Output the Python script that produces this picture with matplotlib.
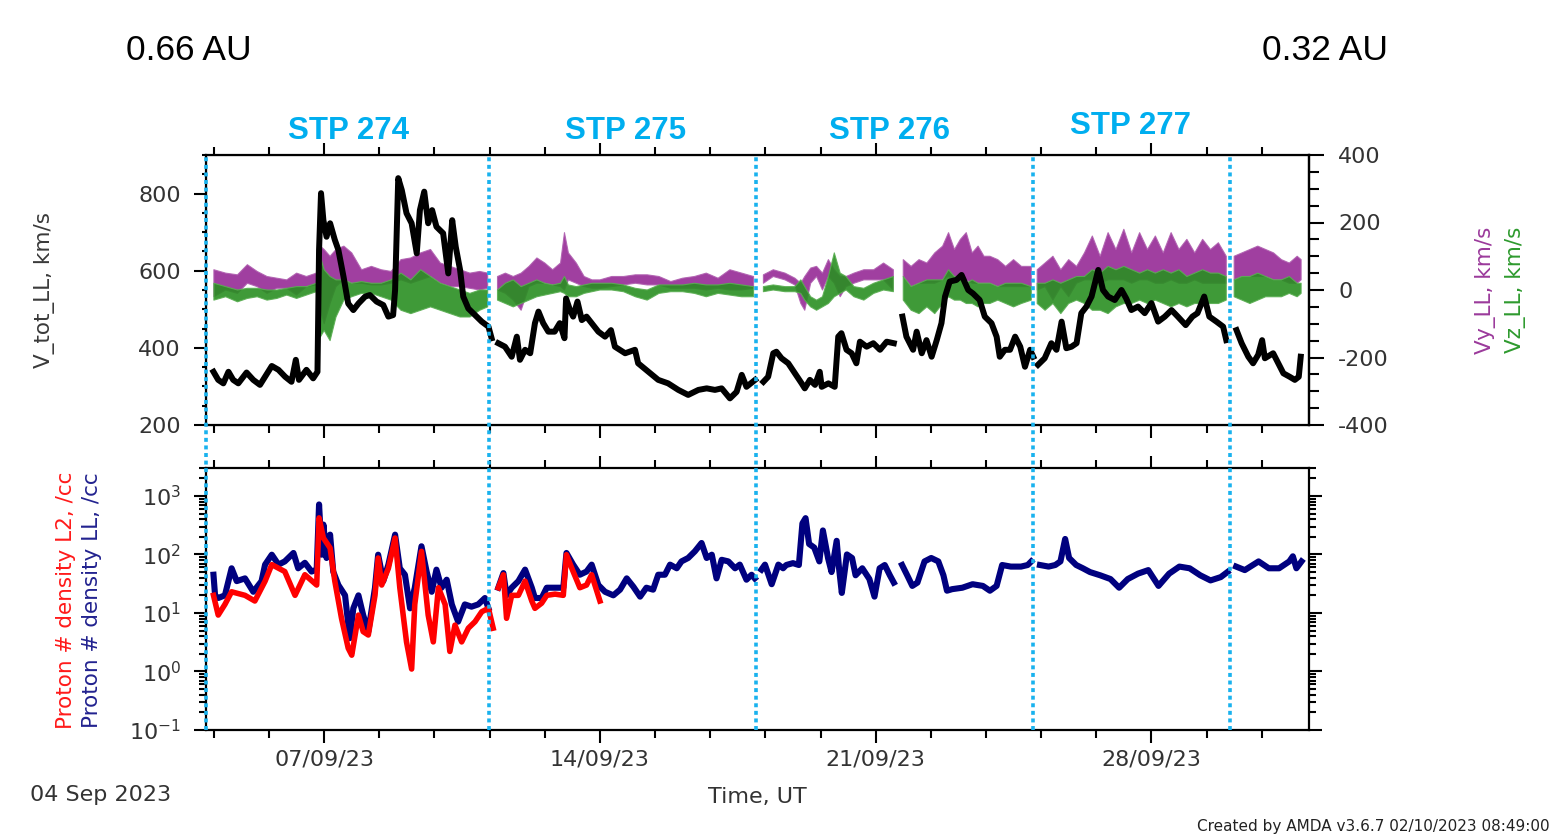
import datetime as dt
import numpy as np
import matplotlib
matplotlib.use("Agg")
import matplotlib.pyplot as plt
import matplotlib.dates as mdates
from matplotlib.ticker import FixedLocator, MultipleLocator, LogLocator, NullFormatter

nan = np.nan
start = dt.datetime(2023, 9, 4)

# all times are days since 04 Sep 2023 00:00 UT, nan marks a data gap
vtot_day = [0.19, 0.31, 0.44, 0.57, 0.69, 0.82, 1.03, 1.20, 1.37, 1.50, 1.67, 1.84, 2.01, 2.17, 2.28, 2.36,
            2.55, 2.72, 2.83, 2.87, 2.92, 2.98, 3.06, 3.15, 3.27, 3.36, 3.49, 3.61, 3.74, 3.87, 4.04, 4.16,
            4.33, 4.50, 4.63, 4.75, 4.80, 4.88, 4.97, 5.09, 5.22, 5.35, 5.43, 5.54, 5.64, 5.74, 5.85, 6.02,
            6.15, 6.25, 6.34, 6.45, 6.53, 6.66, 6.83, 7.00, 7.17, 7.25, 7.33,
            7.42, 7.59, 7.76, 7.89, 7.97, 8.10, 8.23, 8.35, 8.44, 8.56, 8.69, 8.85, 8.98, 9.10, 9.14, 9.24,
            9.32, 9.43, 9.54, 9.66, 9.79, 9.96, 10.13, 10.28, 10.38, 10.64, 10.89, 10.97, 11.23, 11.48, 11.73,
            11.99, 12.24, 12.50, 12.71, 12.92, 13.09, 13.30, 13.47, 13.60, 13.72, 13.94, 14.05,
            14.15, 14.27, 14.40, 14.48, 14.61, 14.78, 14.95, 15.12, 15.20, 15.33, 15.46, 15.58, 15.63, 15.80,
            15.96, 16.05, 16.13, 16.26, 16.39, 16.51, 16.60, 16.77, 16.94, 17.11, 17.28, 17.46, 17.57,
            17.68, 17.78, 17.95, 18.04, 18.17, 18.29, 18.42, 18.55, 18.67, 18.76, 18.88, 19.05, 19.18, 19.35,
            19.47, 19.64, 19.77, 19.94, 20.07, 20.15, 20.28, 20.41, 20.54, 20.67, 20.79, 20.92, 21.00, 21.06,
            21.12, 21.29, 21.46, 21.59, 21.72, 21.84, 21.97, 22.10, 22.22, 22.35, 22.48, 22.65, 22.77, 22.90,
            23.07, 23.24, 23.36, 23.49, 23.66, 23.83, 24.00, 24.17, 24.34, 24.51, 24.67, 24.87, 25.04, 25.17,
            25.34, 25.47, 25.65, 25.82, 25.90, 26.03,
            26.16, 26.29, 26.46, 26.58, 26.71, 26.81, 26.88, 27.09, 27.22, 27.35, 27.51, 27.64, 27.74, 27.79]
vtot = [338, 317, 308, 338, 317, 308, 336, 317, 304, 325, 353, 343, 325, 312, 369, 317,
        343, 321, 338, 654, 801, 731, 688, 723, 680, 654, 585, 515, 498, 515, 533, 537,
        520, 511, 481, 485, 550, 840, 809, 749, 723, 645, 757, 805, 723, 757, 714, 697,
        593, 731, 662, 602, 533, 502, 485, 468, 455, 425, nan,
        412, 403, 377, 429, 369, 395, 386, 464, 494, 464, 442, 442, 464, 425, 528, 498,
        481, 520, 472, 481, 464, 442, 429, 446, 403, 386, 395, 360, 338, 317, 308,
        291, 278, 291, 295, 291, 295, 269, 286, 330, 299, 317, nan,
        312, 325, 386, 390, 373, 360, 334, 308, 295, 317, 304, 338, 299, 308,
        299, 429, 438, 395, 386, 360, 416, 403, 412, 395, 416, 412, nan,
        481, 429, 395, 442, 386, 420, 377, 420, 464, 533, 572, 576, 589, 550,
        541, 524, 481, 464, 429, 377, 395, 395, 429, 403, 351, 395, 377, nan,
        356, 373, 412, 395, 468, 399, 403, 412, 490, 507, 533, 602, 550, 533,
        524, 550, 528, 498, 507, 490, 516, 468, 481, 498, 481, 459, 481, 490,
        533, 481, 468, 455, 420, nan,
        446, 412, 377, 360, 382, 420, 373, 386, 360, 334, 325, 317, 325, 377]

vyz_day = [0.2, 0.5, 0.8, 1.05, 1.3, 1.55, 1.8, 2.05, 2.3, 2.55, 2.8, 2.9, 3.0, 3.15, 3.3, 3.5, 3.7, 3.95,
           4.2, 4.45, 4.7, 4.95, 5.2, 5.45, 5.7, 5.95, 6.2, 6.45, 6.7, 6.95, 7.15, 7.3,
           7.4, 7.6, 7.8, 8.0, 8.2, 8.4, 8.6, 8.8, 9.0, 9.1, 9.2, 9.4, 9.6, 9.8, 10.0, 10.3, 10.6, 10.9,
           11.2, 11.5, 11.8, 12.1, 12.4, 12.7, 13.0, 13.3, 13.6, 13.9, 14.0,
           14.15, 14.4, 14.7, 14.95, 15.1, 15.2, 15.35, 15.5, 15.65, 15.8, 15.95, 16.1, 16.25, 16.45, 16.7,
           16.95, 17.2, 17.45, 17.55,
           17.7, 17.9, 18.1, 18.3, 18.5, 18.7, 18.85, 19.0, 19.15, 19.3, 19.45, 19.6, 19.75, 19.9, 20.1,
           20.3, 20.5, 20.7, 20.95, 21.0,
           21.1, 21.3, 21.5, 21.7, 21.9, 22.1, 22.3, 22.5, 22.7, 22.9, 23.1, 23.3, 23.5, 23.7, 23.9, 24.1,
           24.3, 24.5, 24.7, 24.9, 25.1, 25.3, 25.5, 25.7, 25.9, 26.0,
           26.1, 26.3, 26.5, 26.7, 26.9, 27.1, 27.3, 27.5, 27.7, 27.8]
vy_lo = [-20, 0, -10, 20, 10, -10, 5, 5, -15, 10, 15, -60, -100, -40, 10, 30, 20, 20,
         15, 15, 20, 30, 20, 30, 40, 20, 10, 10, 5, 0, 5, nan,
         0, -10, -30, -60, 10, 20, 20, 15, 10, 0, 30, 20, 10, 5, 5, 10, 15, 20,
         15, 15, 5, 5, 5, 0, 5, 0, 0, 5, nan,
         20, 40, 30, 15, -40, -60, 20, 40, 0, 40, 20, -20, 10, 20, 30,
         30, 30, 0, nan,
         40, 10, 20, 20, 20, 30, 40, 30, 30, 30, 20, 20, 20, 20, 10,
         10, 10, 10, 10, nan,
         0, 10, -30, 10, -20, 20, 30, 30, 20, 30, 30, 30, 20, 30, 30, 20,
         20, 30, 20, 20, 30, 20, 20, 20, 20, nan,
         30, 40, 40, 40, 40, 30, 30, 20, 20, 30]
vy_hi = [60, 50, 45, 75, 55, 40, 35, 30, 50, 40, 50, 130, 120, 100, 120, 130, 110, 60,
         70, 60, 55, 90, 95, 110, 120, 80, 70, 60, 50, 55, 50, nan,
         40, 50, 40, 50, 70, 95, 80, 60, 80, 170, 110, 80, 40, 30, 30, 40, 40, 45,
         45, 40, 25, 35, 40, 50, 35, 60, 50, 40, nan,
         45, 60, 50, 35, 20, 40, 65, 70, 50, 90, 60, 40, 40, 50, 60,
         60, 80, 60, nan,
         90, 70, 90, 80, 110, 130, 170, 120, 150, 170, 110, 130, 100, 100, 90,
         70, 90, 70, 70, nan,
         60, 80, 100, 60, 90, 70, 110, 160, 100, 170, 120, 180, 110, 170, 120, 160,
         110, 170, 120, 150, 110, 150, 120, 140, 100, nan,
         100, 110, 120, 130, 120, 110, 90, 80, 100, 90]
vz_lo = [-30, -20, -35, -25, -20, -30, -25, -15, -25, -15, -5, -140, -120, -150, -80, -30, -20, -10,
         -10, -20, -30, -60, -70, -60, -50, -60, -70, -80, -80, -60, -50, nan,
         -30, -40, -50, -40, -30, -20, -15, -10, -5, -10, -20, -20, -10, -5, 0, 0, -5, -20,
         -30, -10, -5, -5, -10, -20, -10, -15, -20, -20, nan,
         -5, 0, -5, -5, -10, -30, -50, -60, -50, -40, -20, -10, 0, -20, -30,
         -10, 0, -5, nan,
         -30, -60, -70, -50, -70, -40, -20, -30, -30, -40, -40, -50, -40, -40, -30,
         -40, -50, -40, -30, nan,
         -40, -60, -40, -70, -40, -30, -40, -60, -60, -70, -50, -40, -40, -30, -40, -30,
         -40, -50, -40, -50, -40, -40, -40, -40, -30, nan,
         -20, -30, -40, -30, -20, -20, -20, -10, -20, -10]
vz_hi = [20, 10, 0, 5, 5, 0, 0, 5, 10, 10, 20, 100, 60, 40, 30, 30, 20, 25,
         20, 20, 30, 50, 30, 60, 40, 20, 10, 0, -10, 0, 0, nan,
         0, 20, 30, 10, 20, 30, 20, 15, 20, 40, 15, 10, 15, 20, 20, 20, 15, 5,
         0, 15, 15, 15, 20, 15, 15, 20, 15, 10, nan,
         10, 15, 10, 10, 30, 10, -20, -30, -20, 40, 110, 50, 40, 10, 5,
         20, 30, 40, nan,
         40, 10, 20, 30, 30, 30, 60, 40, 40, 20, 30, 20, 20, 20, 10,
         20, 20, 20, 10, nan,
         20, 20, 30, 20, 30, 40, 40, 60, 50, 70, 60, 70, 60, 50, 60, 50,
         60, 50, 60, 40, 50, 60, 50, 50, 40, nan,
         30, 40, 40, 50, 40, 30, 30, 40, 20, 20]

# proton density LL (navy), /cc
nll_day = [0.19, 0.23, 0.31, 0.48, 0.65, 0.78, 0.99, 1.20, 1.41, 1.50, 1.67, 1.84, 2.00, 2.22, 2.34, 2.51,
           2.68, 2.81, 2.87, 2.94, 2.98, 3.06, 3.15, 3.23, 3.36, 3.53, 3.65, 3.74, 3.87, 3.99, 4.12, 4.29,
           4.37, 4.50, 4.63, 4.80, 4.92, 5.05, 5.18, 5.30, 5.47, 5.60, 5.73, 5.85, 5.98, 6.11, 6.24, 6.40,
           6.57, 6.74, 6.91, 7.08, 7.17, 7.30,
           7.42, 7.55, 7.63, 7.76, 7.93, 8.10, 8.27, 8.35, 8.52, 8.65, 8.86, 9.07, 9.15, 9.32, 9.49, 9.66,
           9.79, 9.96, 10.13, 10.34, 10.51, 10.68, 10.85, 11.02, 11.18, 11.35, 11.48, 11.65, 11.78, 11.95,
           12.07, 12.24, 12.41, 12.58, 12.71, 12.84, 12.96, 13.09, 13.26, 13.43, 13.55, 13.72, 13.85, 13.93, 14.02,
           14.10, 14.19, 14.36, 14.53, 14.65, 14.73, 14.90, 15.05, 15.14, 15.22, 15.31, 15.44, 15.57, 15.66,
           15.79, 15.88, 16.01, 16.07, 16.14, 16.27, 16.40, 16.49, 16.66, 16.84, 16.97, 17.10, 17.23, 17.36,
           17.46, 17.56,
           17.67, 17.80, 17.93, 18.06, 18.24, 18.41, 18.59, 18.72, 18.81, 18.94, 19.20, 19.46, 19.72, 19.90,
           20.07, 20.21, 20.43, 20.69, 20.86, 20.95, 21.05,
           21.17, 21.39, 21.56, 21.69, 21.81, 21.91, 22.09, 22.26, 22.44, 22.70, 22.96, 23.18, 23.40, 23.66,
           23.92, 24.18, 24.45, 24.71, 24.97, 25.24, 25.50, 25.76, 25.93, 26.05,
           26.15, 26.37, 26.72, 26.98, 27.24, 27.50, 27.59, 27.68, 27.81]
nll = [45, 20, 18, 20, 58, 35, 39, 23, 35, 67, 99, 67, 76, 106, 58, 72,
       51, 55, 715, 99, 324, 87, 218, 51, 30, 20, 3.7, 12, 20, 9.2, 4.8, 27,
       99, 35, 67, 218, 58, 45, 12, 27, 138, 51, 23, 55, 27, 37, 14, 7.1,
       14, 12.8, 14, 18, 12, nan,
       27, 48, 20, 27, 35, 55, 27, 18, 18, 27, 27, 27, 106, 67, 45, 51,
       67, 30, 23, 20, 25, 39, 28, 19, 27, 25, 45, 45, 67, 58,
       76, 87, 113, 157, 87, 99, 39, 81, 76, 58, 67, 37, 45, 39, nan,
       55, 67, 31, 67, 58, 66, 71, 66, 339, 417, 151, 131, 76, 257,
       87, 50, 171, 58, 22, 100, 87, 44, 58, 38, 19, 58, 66, 44,
       33, nan,
       66, 44, 29, 33, 76, 87, 76, 44, 24, 25.5, 27, 31, 29, 24,
       29, 66, 62, 62, 66, 76, nan,
       66, 62, 66, 76, 184, 87, 66, 58, 50, 44, 38, 27, 38, 47,
       54, 29, 47, 62, 58, 44, 36, 41, 50, nan,
       62, 54, 76, 58, 58, 76, 93, 58, 76]

# proton density L2 (red), /cc
nl2_day = [0.19, 0.31, 0.48, 0.65, 0.99, 1.24, 1.50, 1.67, 2.00, 2.26, 2.51, 2.81, 2.87, 2.98, 3.15, 3.27,
           3.44, 3.61, 3.70, 3.87, 3.99, 4.12, 4.29, 4.37, 4.46, 4.63, 4.80, 4.92, 5.09, 5.22, 5.30, 5.47,
           5.64, 5.77, 5.90, 6.07, 6.19, 6.32, 6.49, 6.66, 6.83, 7.00, 7.17, 7.29, 7.36,
           7.42, 7.55, 7.63, 7.76, 7.93, 8.10, 8.27, 8.35, 8.52, 8.65, 8.86, 9.07, 9.15, 9.32, 9.49, 9.66,
           9.79, 10.00]
nl2 = [20, 9.2, 14, 23, 20, 16, 35, 67, 51, 20, 45, 30, 422, 191, 129, 35,
       8.1, 2.5, 1.9, 9.2, 4.8, 4.2, 20, 87, 30, 58, 191, 27, 3.2, 1.1, 14, 113,
       9.2, 3.2, 27, 14, 2.2, 6.2, 3.2, 5.5, 7.1, 10.5, 12, 5.5, nan,
       27, 45, 8.1, 20, 20, 35, 16, 12, 14.7, 20, 21, 20, 99, 51, 27, 30,
       45, 16]

stp_bounds_day = [0.0, 7.18, 13.96, 20.99, 25.99]
stp_names = ["STP 274", "STP 275", "STP 276", "STP 277"]
stp_label_px = [(348, 131), (626, 131), (890, 131), (1131, 126)]

d0 = mdates.date2num(start)


def days(a):
    return d0 + np.asarray(a, dtype=float)


plt.rcParams["font.family"] = "DejaVu Sans"
plt.rcParams["axes.unicode_minus"] = False
TICK_C = "#333333"
STP_C = "#00AEEF"
W, H = 1552, 835

fig = plt.figure(figsize=(15.52, 8.35), dpi=100, facecolor="white")
ax1 = fig.add_axes([206 / W, 1 - 425 / H, 1103 / W, 270 / H])
ax1r = ax1.twinx()
ax2 = fig.add_axes([206 / W, 1 - 730 / H, 1103 / W, 262 / H])
ax1r.set_zorder(1)
ax1.set_zorder(2)
for a in (ax1, ax1r, ax2):
    a.patch.set_visible(False)

# velocity components (right axis)
ax1r.fill_between(days(vyz_day), vy_lo, vy_hi, color="#962A96", alpha=0.9, lw=0.8,
                  edgecolor="#B060B0")
ax1r.fill_between(days(vyz_day), vz_lo, vz_hi, color="#2A8F22", alpha=0.9, lw=0.8,
                  edgecolor="#5AAE52")
ax1r.set_ylim(-400, 400)

ax1.plot(days(vtot_day), vtot, color="black", lw=4.3, zorder=3)
ax1.set_ylim(200, 900)

ax2.plot(days(nll_day), nll, color="#00007F", lw=4.4)
ax2.plot(days(nl2_day), nl2, color="#FF0000", lw=4.0)
ax2.set_yscale("log")
ax2.set_ylim(0.1, 3000)

# STP boundaries, one dotted line through both panels
for b in stp_bounds_day:
    ax1.axvline(d0 + b, ymin=-305 / 270, ymax=1, clip_on=False, color="#19B2EE",
                lw=2.6, ls=(0, (1.1, 1.0)), zorder=6)

major_days = [3, 10, 17, 24]
minor_days = [3 + 1.4 * k for k in range(-2, 18) if k % 5 != 0]
for a in (ax1, ax2):
    a.set_xlim(d0, d0 + 28)
    a.xaxis.set_major_locator(FixedLocator([d0 + m for m in major_days]))
    a.xaxis.set_minor_locator(FixedLocator([d0 + m for m in minor_days]))
    a.xaxis.set_major_formatter(mdates.DateFormatter("%d/%m/%y"))
    for s in a.spines.values():
        s.set_linewidth(1.6)
ax1r.spines["right"].set_linewidth(1.6)

ax1.tick_params(axis="x", which="both", direction="out", top=True, bottom=True,
                labelbottom=False, width=1.5)
ax2.tick_params(axis="x", which="both", direction="out", top=True, bottom=True,
                labelbottom=True, width=1.5)
for a in (ax1, ax2):
    a.tick_params(axis="x", which="major", length=9, pad=5, labelsize=16, labelcolor=TICK_C)
    a.tick_params(axis="x", which="minor", length=5.5)

ax1.yaxis.set_major_locator(MultipleLocator(200))
ax1.yaxis.set_minor_locator(MultipleLocator(50))
ax1.tick_params(axis="y", which="both", direction="out", left=True, right=False, width=1.5)
ax1.tick_params(axis="y", which="major", length=9, pad=9, labelsize=16, labelcolor=TICK_C)
ax1.tick_params(axis="y", which="minor", length=3)

ax1r.yaxis.set_major_locator(MultipleLocator(200))
ax1r.yaxis.set_minor_locator(MultipleLocator(50))
ax1r.tick_params(axis="y", which="both", direction="out", right=True, left=False, width=1.5)
ax1r.tick_params(axis="y", which="major", length=11, pad=10, labelsize=16, labelcolor=TICK_C)
ax1r.tick_params(axis="y", which="minor", length=7)

ax2.yaxis.set_major_locator(LogLocator(base=10, numticks=12))
ax2.yaxis.set_minor_locator(LogLocator(base=10, subs=np.arange(2, 10), numticks=12))
ax2.yaxis.set_minor_formatter(NullFormatter())
ax2.tick_params(axis="y", which="both", direction="out", left=True, right=True,
                labelright=False, width=1.5)
ax2.tick_params(axis="y", which="major", length=9, pad=9, labelsize=16, labelcolor=TICK_C)
ax2.tick_params(axis="y", which="minor", length=5)

# axis titles
fig.text(45 / W, 1 - 290 / H, "V_tot_LL, km/s", rotation=90, ha="center", va="center",
         fontsize=15.5, color="#3a3a3a")
fig.text(66 / W, 1 - 600 / H, "Proton # density L2, /cc", rotation=90, ha="center",
         va="center", fontsize=15.5, color="#FF1A1A")
fig.text(92 / W, 1 - 600 / H, "Proton # density LL, /cc", rotation=90, ha="center",
         va="center", fontsize=15.5, color="#22228F")
fig.text(1485 / W, 1 - 290 / H, "Vy_LL, km/s", rotation=90, ha="center", va="center",
         fontsize=15.5, color="#9B3A9B")
fig.text(1515 / W, 1 - 290 / H, "Vz_LL, km/s", rotation=90, ha="center", va="center",
         fontsize=15.5, color="#2E9A2E")

fig.text(30 / W, 1 - 795 / H, "04 Sep 2023", ha="left", va="center", fontsize=16, color=TICK_C)
fig.text(757 / W, 1 - 797 / H, "Time, UT", ha="center", va="center", fontsize=16, color=TICK_C)
fig.text(1550 / W, 1 - 826 / H, "Created by AMDA v3.6.7 02/10/2023 08:49:00", ha="right",
         va="center", fontsize=11, color="#222222")

fig.text(126 / W, 1 - 51 / H, "0.66 AU", ha="left", va="center", fontsize=25.5,
         family="Liberation Sans", color="black")
fig.text(1262 / W, 1 - 51 / H, "0.32 AU", ha="left", va="center", fontsize=25.5,
         family="Liberation Sans", color="black")
for name, (px, py) in zip(stp_names, stp_label_px):
    fig.text(px / W, 1 - py / H, name, ha="center", va="center", fontsize=22.5,
             family="Liberation Sans", fontweight="bold", color=STP_C)

fig.savefig("out.png", dpi=100, facecolor="white")
